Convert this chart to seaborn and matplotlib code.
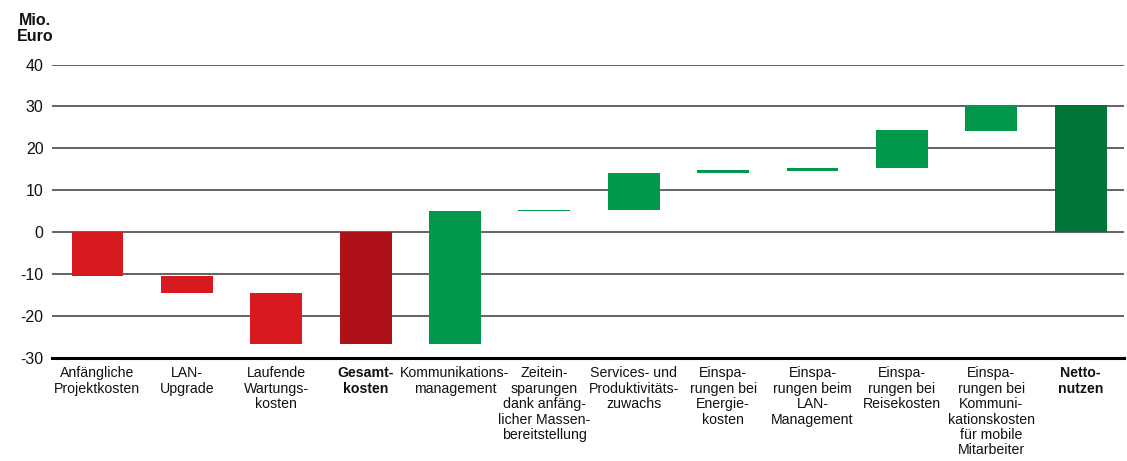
import numpy as np
import pandas as pd
import matplotlib
matplotlib.use("Agg")
import matplotlib.pyplot as plt
import seaborn as sns

categories = [
    "Anfängliche\nProjektkosten",
    "LAN-\nUpgrade",
    "Laufende\nWartungs-\nkosten",
    "Gesamt-\nkosten",
    "Kommunikations-\nmanagement",
    "Zeitein-\nsparungen\ndank anfäng-\nlicher Massen-\nbereitstellung",
    "Services- und\nProduktivitäts-\nzuwachs",
    "Einspa-\nrungen bei\nEnergie-\nkosten",
    "Einspa-\nrungen beim\nLAN-\nManagement",
    "Einspa-\nrungen bei\nReisekosten",
    "Einspa-\nrungen bei\nKommuni-\nkationskosten\nfür mobile\nMitarbeiter",
    "Netto-\nnutzen",
]
bar_start = [0, -10.4, -14.6, 0, -26.7, 5.1, 5.2, 14.2, 14.7, 15.4, 24.2, 0]
bar_end = [-10.5, -14.6, -26.7, -26.7, 5.1, 5.4, 14.2, 14.9, 15.4, 24.4, 30.1, 30.4]
bar_colors = ["#D71920", "#D71920", "#D71920", "#AE1218",
              "#00994C", "#00994C", "#00994C", "#00994C",
              "#00994C", "#00994C", "#00994C", "#007337"]
bold_labels = ["Gesamt-\nkosten", "Netto-\nnutzen"]
y_ticks = [-30, -20, -10, 0, 10, 20, 30, 40]

sns.set_theme(style="white")
plt.rcParams["font.family"] = ["Liberation Sans", "DejaVu Sans"]

df = pd.DataFrame({
    "cat": categories,
    "start": bar_start,
    "height": np.array(bar_end) - np.array(bar_start),
})

fig = plt.figure(figsize=(11.27, 4.61), dpi=100)
ax = fig.add_axes([0.046, 0.2234, 0.951, 0.6366])

sns.barplot(data=df, x="cat", y="height", order=categories, bottom=df["start"].values,
            width=0.58, saturation=1, color="#00994C", ax=ax, linewidth=0, zorder=3)
for patch, c in zip(ax.patches, bar_colors):
    patch.set_facecolor(c)

ax.set_xlim(-0.51, 11.48)
ax.set_ylim(-30, 40)
ax.set_yticks(y_ticks)
ax.set_yticklabels([str(v) for v in y_ticks])
for v in y_ticks[1:]:
    ax.axhline(v, color="#383838", linewidth=1.1, zorder=1)
ax.set_axisbelow(True)

for s in ["top", "right", "left"]:
    ax.spines[s].set_visible(False)
ax.spines["bottom"].set_color("black")
ax.spines["bottom"].set_linewidth(2.2)
ax.spines["bottom"].set_zorder(4)

ax.set_xlabel("")
ax.set_ylabel("")
ax.tick_params(axis="y", length=0, pad=6, labelsize=11.5, colors="#111111")
ax.tick_params(axis="x", length=0, pad=6, labelsize=10.2, colors="#111111")
for lbl in ax.get_xticklabels():
    lbl.set_linespacing(1.13)
    lbl.set_multialignment("center")
    if lbl.get_text() in bold_labels:
        lbl.set_fontweight("bold")

fig.text(0.031, 0.905, "Mio.\nEuro", ha="center", va="bottom", fontsize=11.5,
         fontweight="bold", linespacing=1.1, color="#111111")

fig.savefig("out.png", dpi=100)
